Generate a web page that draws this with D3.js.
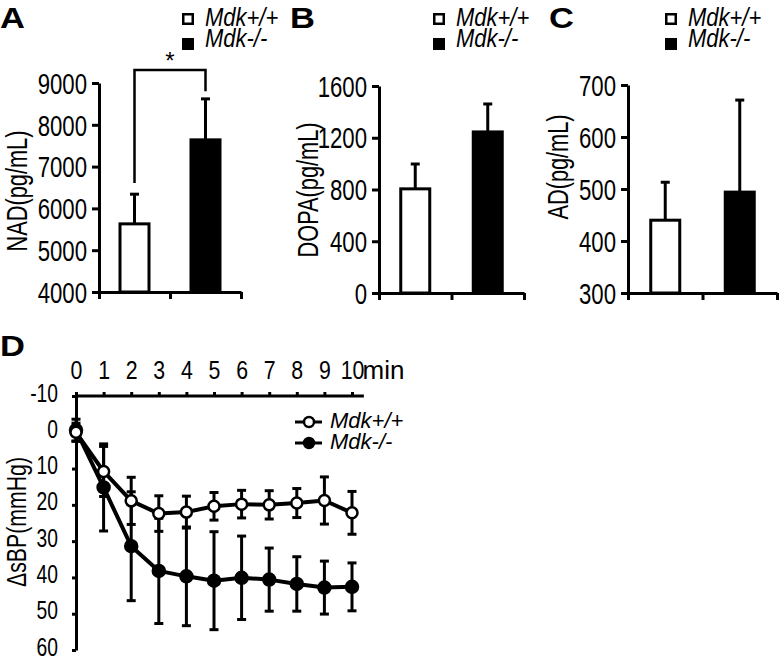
<!DOCTYPE html>
<html>
<head>
<meta charset="utf-8">
<script src="https://cdn.jsdelivr.net/npm/d3@7"></script>
<style>
  html, body { margin: 0; padding: 0; background: #fff; }
  svg { display: block; }
</style>
</head>
<body>
<div id="chart"></div>
<script>
// ---------------- data ----------------
const groups = ["Mdk+/+", "Mdk-/-"];
const nadMean = [5630, 7640];
const nadErr = [710, 980];
const nadTicks = [4000, 5000, 6000, 7000, 8000, 9000];
const dopaMean = [805, 1245];
const dopaErr = [192, 216];
const dopaTicks = [0, 400, 800, 1200, 1600];
const adMean = [440, 494];
const adErr = [73, 177];
const adTicks = [300, 400, 500, 600, 700];
const sigTop = 9310, sigLeftEnd = 6610, sigRightEnd = 8800;

const minutes = [0, 1, 2, 3, 4, 5, 6, 7, 8, 9, 10];
const wtMean = [0, 10.8, 18.9, 22.4, 22.0, 20.4, 19.8, 20.0, 19.5, 18.8, 22.2];
const wtErr  = [2.5, 6.9, 6.5, 4.9, 4.4, 3.8, 3.8, 3.9, 4.0, 6.5, 5.9];
const koMean = [-0.6, 15.2, 31.4, 38.2, 39.7, 40.9, 40.1, 40.6, 41.8, 42.8, 42.6];
const koErr  = [3, 12, 15, 14.5, 13.6, 13.5, 11.5, 8.7, 7.5, 7.3, 6.6];
const bpTicks = [-10, 0, 10, 20, 30, 40, 50, 60];

// ---------------- setup ----------------
const W = 780, H = 661;
const FONT = "'Liberation Sans', Arial, Helvetica, sans-serif";
const fmt = d => String(d);
const svg = d3.select("#chart").append("svg")
  .attr("width", W).attr("height", H)
  .style("font-family", FONT);

function ctext(parent, x, y, str, o = {}) {
  const t = parent.append("text")
    .attr("transform", `translate(${x},${y}) rotate(${o.rotate || 0}) scale(${o.sx || 1},1)`)
    .attr("text-anchor", o.anchor || "start")
    .attr("font-size", o.size || 24)
    .attr("font-weight", o.weight || "normal")
    .attr("font-style", o.style || "normal")
    .attr("font-family", FONT)
    .attr("fill", "#000")
    .text(str);
  return t;
}

function condenseAxisText(g, sx, size) {
  g.selectAll(".tick text").each(function () {
    const el = d3.select(this);
    const x = +el.attr("x") || 0;
    el.attr("x", x / sx)
      .attr("transform", `scale(${sx},1)`)
      .attr("font-size", size)
      .attr("font-family", FONT)
      .attr("fill", "#000");
  });
}

// ---------------- bar panels ----------------
function barPanel(cfg) {
  const g = svg.append("g");
  const y = d3.scaleLinear().domain(cfg.domain).range(cfg.yRange);
  const xp = d3.scalePoint().domain(groups).range(cfg.xRange).padding(0.5);
  const xl = d3.scaleLinear().domain([0, 2]).range(cfg.xRange);
  const bw = 29;

  groups.forEach((grp, i) => {
    const cx = xp(grp);
    const top = cfg.mean[i] + cfg.err[i];
    g.append("line")
      .attr("x1", cx).attr("x2", cx)
      .attr("y1", y(cfg.mean[i])).attr("y2", y(top))
      .attr("stroke", "#000").attr("stroke-width", 3);
    g.append("line")
      .attr("x1", cx - 4.5).attr("x2", cx + 4.5)
      .attr("y1", y(top)).attr("y2", y(top))
      .attr("stroke", "#000").attr("stroke-width", 3);
    g.append("rect")
      .attr("x", cx - bw / 2).attr("width", bw)
      .attr("y", y(cfg.mean[i])).attr("height", y(cfg.domain[0]) - y(cfg.mean[i]))
      .attr("fill", i === 0 ? "#fff" : "#000")
      .attr("stroke", "#000").attr("stroke-width", 3);
  });

  const ya = g.append("g")
    .attr("transform", `translate(${cfg.xRange[0]},0)`)
    .call(d3.axisLeft(y).tickValues(cfg.ticks).tickFormat(fmt).tickSize(7).tickSizeOuter(0).tickPadding(5));
  ya.select(".domain").attr("stroke-width", 3);
  ya.selectAll(".tick line").attr("stroke-width", 3);
  condenseAxisText(ya, 0.74, 30);
  ya.selectAll(".tick text").attr("dy", "0.34em");

  const xa = g.append("g")
    .attr("transform", `translate(0,${cfg.yRange[0]})`)
    .call(d3.axisBottom(xl).tickValues([0, 1, 2]).tickSize(7).tickSizeOuter(0).tickFormat(""));
  xa.select(".domain").attr("stroke-width", 3);
  xa.selectAll(".tick line").attr("stroke-width", 3);

  ctext(g, cfg.labelX, cfg.labelY, cfg.label, { rotate: -90, sx: 0.75, size: 29, anchor: "middle" });
  ctext(g, cfg.letterX, 28, cfg.letter, { size: 30, weight: "bold", sx: 1.15 });

  groups.forEach((grp, i) => {
    const ly = 13 + i * 25;
    g.append("rect")
      .attr("x", cfg.legX + 1.25).attr("y", ly + 1.25)
      .attr("width", 9.5).attr("height", 9.5)
      .attr("fill", i === 0 ? "#fff" : "#000")
      .attr("stroke", "#000").attr("stroke-width", 2.5);
    ctext(g, cfg.legX + 23, 26 + i * 21, grp, { size: 25, style: "italic", sx: 0.88 });
  });
  return { g, y, xp };
}

const A = barPanel({
  domain: [4000, 9000], yRange: [292, 83], xRange: [99, 241],
  mean: nadMean, err: nadErr, ticks: nadTicks,
  label: "NAD(pg/mL)", labelX: 27, labelY: 191,
  letter: "A", letterX: 0, legX: 182
});
barPanel({
  domain: [0, 1600], yRange: [293, 86], xRange: [379, 524],
  mean: dopaMean, err: dopaErr, ticks: dopaTicks,
  label: "DOPA(pg/mL)", labelX: 318, labelY: 190,
  letter: "B", letterX: 290, legX: 433
});
barPanel({
  domain: [300, 700], yRange: [293, 85], xRange: [628, 777],
  mean: adMean, err: adErr, ticks: adTicks,
  label: "AD(pg/mL)", labelX: 568, labelY: 167,
  letter: "C", letterX: 549, legX: 665
});

// significance bracket (panel A)
{
  const x0 = A.xp(groups[0]), x1 = A.xp(groups[1]);
  const p = d3.path();
  p.moveTo(x0, A.y(sigLeftEnd));
  p.lineTo(x0, A.y(sigTop));
  p.lineTo(x1, A.y(sigTop));
  p.lineTo(x1, A.y(sigRightEnd));
  A.g.append("path").attr("d", p.toString())
    .attr("fill", "none").attr("stroke", "#000").attr("stroke-width", 2.5);
  ctext(A.g, (x0 + x1) / 2, A.y(sigTop) - 1, "*", { size: 24, anchor: "middle" });
}

// ---------------- panel D ----------------
{
  const g = svg.append("g");
  const x = d3.scaleLinear().domain([0, 10]).range([76, 352]);
  const y = d3.scaleLinear().domain([-10, 60]).range([396, 650]);

  const xa = g.append("g").attr("transform", `translate(0,${y(-10)})`)
    .call(d3.axisTop(x).tickValues(minutes).tickFormat(fmt).tickSize(4).tickSizeOuter(0).tickPadding(13));
  xa.select(".domain").remove();
  xa.append("line").attr("x1", x(0)).attr("x2", x(10.43)).attr("stroke", "#000").attr("stroke-width", 3);
  xa.selectAll(".tick line").attr("stroke-width", 3);
  condenseAxisText(xa, 0.82, 26);
  ctext(g, x(10) + 10.5, y(-10) - 17, "min", { size: 26 });

  const ya = g.append("g").attr("transform", `translate(${x(0)},0)`)
    .call(d3.axisLeft(y).tickValues(bpTicks).tickFormat(fmt).tickSize(4).tickSizeOuter(0).tickPadding(14));
  ya.select(".domain").attr("stroke-width", 3);
  ya.selectAll(".tick line").attr("stroke-width", 3);
  condenseAxisText(ya, 0.77, 25);
  ya.selectAll(".tick text").attr("dy", "0.2em");

  ctext(g, 26, 522, "ΔsBP(mmHg)", { rotate: -90, sx: 0.76, size: 28, anchor: "middle" });
  ctext(g, 0, 356, "D", { size: 30, weight: "bold", sx: 1.15 });

  const series = [
    { mean: koMean, err: koErr, fill: "#000", r: 6 },
    { mean: wtMean, err: wtErr, fill: "#fff", r: 5.5 }
  ];
  series.forEach(s => {
    minutes.forEach((m, i) => {
      const cx = x(m), lo = y(s.mean[i] - s.err[i]), hi = y(s.mean[i] + s.err[i]);
      g.append("line").attr("x1", cx).attr("x2", cx).attr("y1", lo).attr("y2", hi)
        .attr("stroke", "#000").attr("stroke-width", 3);
      [lo, hi].forEach(yy => g.append("line")
        .attr("x1", cx - 4.5).attr("x2", cx + 4.5).attr("y1", yy).attr("y2", yy)
        .attr("stroke", "#000").attr("stroke-width", 3));
    });
  });
  const line = d3.line().x((d, i) => x(minutes[i])).y(d => y(d));
  series.forEach(s => {
    g.append("path").attr("d", line(s.mean))
      .attr("fill", "none").attr("stroke", "#000").attr("stroke-width", 4)
      .attr("stroke-linejoin", "round");
  });
  series.forEach(s => {
    g.selectAll(null).data(s.mean).enter().append("circle")
      .attr("cx", (d, i) => x(minutes[i])).attr("cy", d => y(d))
      .attr("r", s.r).attr("fill", s.fill).attr("stroke", "#000").attr("stroke-width", 2.5);
  });

  const leg = [{ name: groups[0], fill: "#fff" }, { name: groups[1], fill: "#000" }];
  leg.forEach((l, i) => {
    const ly = 422 + i * 21;
    g.append("line").attr("x1", 295).attr("x2", 322).attr("y1", ly).attr("y2", ly)
      .attr("stroke", "#000").attr("stroke-width", 3);
    g.append("circle").attr("cx", 309).attr("cy", ly).attr("r", 5)
      .attr("fill", l.fill).attr("stroke", "#000").attr("stroke-width", 2.5);
    ctext(g, 330, ly + 6, l.name, { size: 22, style: "italic", sx: 1.0 });
  });
}
</script>
</body>
</html>
